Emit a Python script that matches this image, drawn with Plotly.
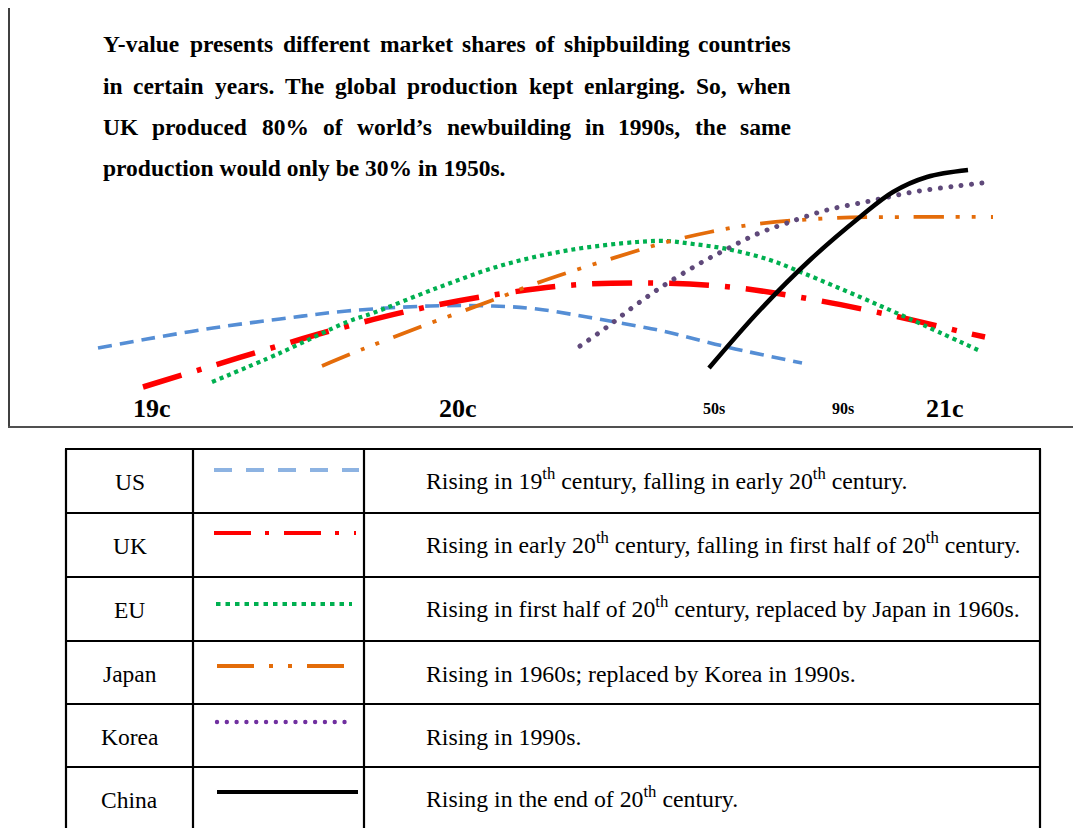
import plotly.graph_objects as go

W, H = 1073, 828
PANEL_BOTTOM = 427          # pixel row of the upper panel's base line
SERIF = "Liberation Serif, Times New Roman, serif"

# ---- curve data: timeline position (x) vs. relative market share (y) ----
us_x = [98, 147, 213, 280, 347, 430, 493, 537, 587, 637, 667, 727, 802]
us_y = [79, 88, 99, 108, 116, 121, 121, 118, 110, 101, 95, 80, 64]

uk_x = [143, 202, 278, 337, 413, 493, 573, 653, 730, 810, 890, 967, 985]
uk_y = [40, 58, 81, 98, 117, 132, 142, 144, 140, 128, 112, 94, 90]

eu_x = [212, 280, 347, 373, 437, 503, 570, 637, 667, 693, 727, 770, 803, 860, 910, 978]
eu_y = [45, 74, 105, 114, 139, 162, 177, 185, 186, 183, 178, 167, 154, 130, 108, 77]

japan_x = [322, 363, 420, 493, 537, 607, 667, 710, 757, 833, 907, 993]
japan_y = [61, 78, 100, 127, 144, 167, 185, 195, 203, 209, 210, 210]

korea_x = [580, 607, 633, 660, 697, 727, 757, 787, 827, 870, 913, 957, 990]
korea_y = [81, 100, 120, 139, 162, 178, 193, 204, 217, 226, 235, 241, 245]

china_x = [709, 760, 810, 860, 893, 927, 968]
china_y = [59, 117, 167, 210, 235, 250, 257]

# era labels along the timeline
era_labels = ["19c", "20c", "50s", "90s", "21c"]
era_pos = [152, 458, 714, 843, 945]
era_size = [26, 26, 16, 16, 26]

# ---- legend table ----
countries = ["US", "UK", "EU", "Japan", "Korea", "China"]
descriptions = [
    "Rising in 19<sup>th</sup> century, falling in early 20<sup>th</sup> century.",
    "Rising in early 20<sup>th</sup> century, falling in first half of 20<sup>th</sup> century.",
    "Rising in first half of 20<sup>th</sup> century, replaced by Japan in 1960s.",
    "Rising in 1960s; replaced by Korea in 1990s.",
    "Rising in 1990s.",
    "Rising in the end of 20<sup>th</sup> century.",
]

note_lines = [
    "Y-value presents different market shares of shipbuilding countries",
    "in certain years. The global production kept enlarging. So, when",
    "UK produced 80% of world\u2019s newbuilding in 1990s, the same",
    "production would only be 30% in 1950s.",
]

# line styles: (chart color, chart width, chart dash, key color, key width, key dash)
styles = {
    "US":    ("#558ED5", 3.6, "14px,8px", "#8DB3E2", 4, "18px,14px"),
    "UK":    ("#FF0000", 5.5, "40px,16px,5px,16px", "#FF0000", 4.2, "37px,14px,4px,15px"),
    "EU":    ("#00B050", 4.2, "4px,4px", "#00B050", 4, "4.5px,5px"),
    "Japan": ("#E46C0A", 3.8, "30px,12px,4px,12px,4px,15px", "#E36C09", 4, "37px,15px,4px,15px,4px,15px"),
    "Korea": ("#5F497A", 5.0, "5px,5.5px", "#7030A0", 4.4, "4.4px,5.4px"),
    "China": ("#000000", 4.5, "solid", "#000000", 4.2, "solid"),
}

series = {
    "US": (us_x, us_y), "UK": (uk_x, uk_y), "EU": (eu_x, eu_y),
    "Japan": (japan_x, japan_y), "Korea": (korea_x, korea_y), "China": (china_x, china_y),
}

fig = go.Figure()
for name in ["US", "UK", "EU", "Japan", "Korea", "China"]:
    xs, ys = series[name]
    col, wid, dash, *_ = styles[name]
    fig.add_trace(go.Scatter(
        x=xs, y=ys, mode="lines", name=name, showlegend=False, hoverinfo="skip",
        line=dict(color=col, width=wid, dash=dash, shape="spline", smoothing=1.0),
    ))


def px(x):
    return x / W


def py(y):
    return 1 - y / H


shapes = []
annotations = []

# panel frame: left rule and base line
shapes.append(dict(type="line", xref="paper", yref="paper", x0=px(9), x1=px(9),
                   y0=py(8), y1=py(PANEL_BOTTOM), line=dict(color="#404040", width=2)))
shapes.append(dict(type="line", xref="paper", yref="paper", x0=px(8), x1=px(W),
                   y0=py(PANEL_BOTTOM), y1=py(PANEL_BOTTOM), line=dict(color="#505050", width=2)))

# era labels
for lab, xpos, fs in zip(era_labels, era_pos, era_size):
    annotations.append(dict(x=xpos, y=PANEL_BOTTOM - 408, xref="x", yref="y", text=lab,
                            showarrow=False, xanchor="center", yanchor="middle",
                            font=dict(family=SERIF, size=fs, color="black", weight=700)))

# justified note paragraph (Times-Bold advance widths, per 1000 em)
TB = {" ": 250, "-": 333, ".": 250, ",": 250, "%": 1000, "\u2019": 333,
      "Y": 722, "T": 667, "U": 722, "K": 778, "S": 556,
      "a": 500, "b": 556, "c": 444, "d": 556, "e": 444, "f": 333, "g": 500, "h": 556,
      "i": 278, "j": 333, "k": 556, "l": 278, "m": 833, "n": 556, "o": 500, "p": 556,
      "q": 556, "r": 444, "s": 389, "t": 333, "u": 556, "v": 500, "w": 722, "x": 500,
      "y": 500, "z": 444}
for d in "0123456789":
    TB[d] = 500

NOTE_FS = 23.5
NOTE_LEFT, NOTE_RIGHT = 101, 789     # annotation anchors (text sits ~2px inside)
note_rows = [44, 86, 127, 168]


def word_width(wd):
    return sum(TB.get(ch, 500) for ch in wd) / 1000 * NOTE_FS


note_font = dict(family=SERIF, size=NOTE_FS, color="black", weight=700)
for i, (line, yrow) in enumerate(zip(note_lines, note_rows)):
    if i < len(note_lines) - 1:
        words = line.split(" ")
        widths = [word_width(w) for w in words]
        gap = (NOTE_RIGHT - NOTE_LEFT - sum(widths)) / (len(words) - 1)
        xcur = NOTE_LEFT
        for w, ww in zip(words, widths):
            annotations.append(dict(x=px(xcur), y=py(yrow), xref="paper", yref="paper",
                                    text=w, showarrow=False, xanchor="left", yanchor="middle",
                                    font=note_font))
            xcur += ww + gap
    else:
        annotations.append(dict(x=px(NOTE_LEFT), y=py(yrow), xref="paper", yref="paper",
                                text=line, showarrow=False, xanchor="left", yanchor="middle",
                                font=note_font))

# table grid
row_edges = [449, 513, 577, 641, 704, 767, 831]
col_edges = [66, 193, 364, 1040]
for r in row_edges:
    shapes.append(dict(type="line", xref="paper", yref="paper", x0=px(col_edges[0] - 1),
                       x1=px(col_edges[-1] + 1), y0=py(r), y1=py(r),
                       line=dict(color="black", width=2.2)))
for c in col_edges:
    shapes.append(dict(type="line", xref="paper", yref="paper", x0=px(c), x1=px(c),
                       y0=py(row_edges[0]), y1=py(row_edges[-1]),
                       line=dict(color="black", width=2.2)))

key_y = [470, 533, 604, 666, 722, 792]
key_x0 = [214, 214, 216, 217, 217, 217]
key_x1 = [359, 356, 352, 358, 354, 358]
cell_font = dict(family=SERIF, size=23.5, color="black")
desc_font = dict(family=SERIF, size=23.8, color="black")
for i, name in enumerate(countries):
    top, bot = row_edges[i], row_edges[i + 1]
    mid = (top + bot) / 2 + 1
    annotations.append(dict(x=px((col_edges[0] + col_edges[1]) / 2), y=py(mid),
                            xref="paper", yref="paper", text=name, showarrow=False,
                            xanchor="center", yanchor="middle", font=cell_font))
    # superscripts enlarge the text box upwards, so those rows sit a little higher
    desc_mid = mid - 3 if "<sup>" in descriptions[i] else mid
    annotations.append(dict(x=px(424), y=py(desc_mid), xref="paper", yref="paper",
                            text=descriptions[i], showarrow=False,
                            xanchor="left", yanchor="middle", font=desc_font))
    _, _, _, kcol, kwid, kdash = styles[name]
    shapes.append(dict(type="line", xref="paper", yref="paper",
                       x0=px(key_x0[i]), x1=px(key_x1[i]), y0=py(key_y[i]), y1=py(key_y[i]),
                       line=dict(color=kcol, width=kwid, dash=kdash)))

fig.update_layout(
    width=W, height=H, margin=dict(l=0, r=0, t=0, b=0),
    paper_bgcolor="white", plot_bgcolor="rgba(0,0,0,0)",
    xaxis=dict(range=[0, W], domain=[0, 1], visible=False, fixedrange=True),
    yaxis=dict(range=[0, PANEL_BOTTOM], domain=[1 - PANEL_BOTTOM / H, 1],
               visible=False, fixedrange=True),
    shapes=shapes, annotations=annotations, showlegend=False,
)

# turn the Korea dotted strokes into round dots
round_dots = """
function roundKoreaDots() {
  var gd = document.getElementById('{plot_id}');
  if (!gd) { return; }
  gd.querySelectorAll('path').forEach(function(p){
    var s = (p.style.stroke || p.getAttribute('stroke') || '').replace(/\\s/g, '');
    if (s.indexOf('95,73,122') >= 0 || s.toLowerCase() === '#5f497a') {
      p.style.strokeLinecap = 'round';
      p.style.strokeDasharray = '0.01px,10.5px';
    } else if (s.indexOf('112,48,160') >= 0 || s.toLowerCase() === '#7030a0') {
      p.style.strokeLinecap = 'round';
      p.style.strokeDasharray = '0.01px,9.8px';
    }
  });
}
roundKoreaDots();
setTimeout(roundKoreaDots, 50);
"""

fig.write_html("out.html", config={"displayModeBar": False, "responsive": False},
               post_script=round_dots)
